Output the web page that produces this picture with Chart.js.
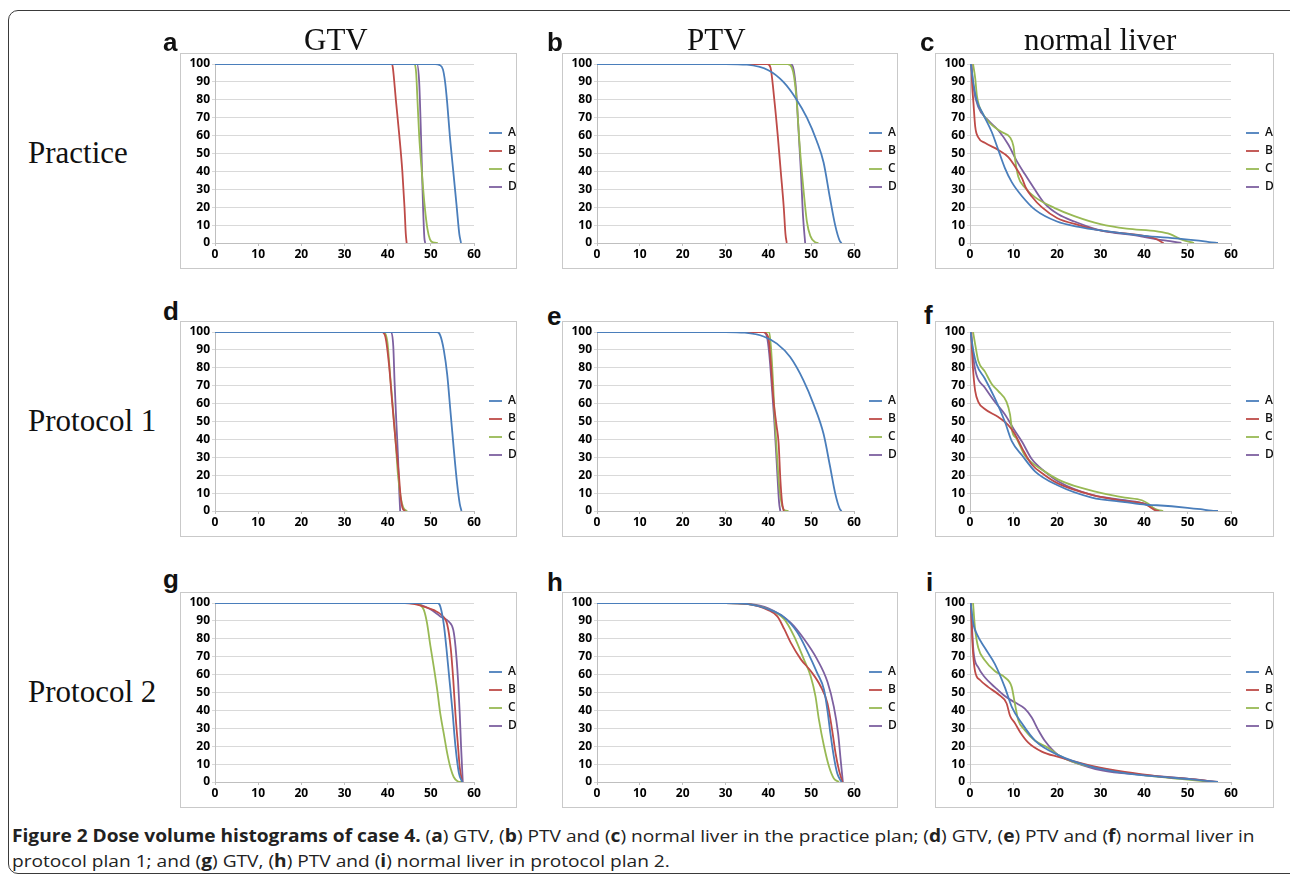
<!DOCTYPE html>
<html lang="en">

<head>
    <meta charset="UTF-8" />
    <title>Figure 2 | Dose volume histograms</title>
    <script src="https://cdn.jsdelivr.net/npm/chart.js"></script>
    <style>
        body { margin: 0; background: #fff; }
        #page { position: relative; width: 1290px; height: 879px; overflow: hidden; background: #fff; }
        .outer { position: absolute; left: 8px; top: 10px; width: 1290px; height: 862px; border: 1.5px solid #3a3a3a; border-radius: 10px; }
        .panel { position: absolute; border: 1px solid #c9c9c9; background: #fff; }
        .panel canvas { display: block; }
        .col1 { left: 180px; width: 335px; }
        .col2 { left: 562px; width: 334px; }
        .col3 { left: 935px; width: 337px; }
        .row1 { top: 53px; height: 214px; }
        .row2 { top: 321px; height: 214px; }
        .row3 { top: 592px; height: 214px; }
        .serif { position: absolute; z-index: 2; font-family: "Liberation Serif", "Times New Roman", serif; font-size: 31px; line-height: 31px; color: #111; white-space: nowrap; }
        .letter { position: absolute; z-index: 2; font-family: "Liberation Sans", Arial, sans-serif; font-weight: bold; font-size: 26px; line-height: 26px; color: #111; }
        .caption { position: absolute; left: 12px; font-family: "Open Sans", sans-serif; font-size: 17px; line-height: 20px; color: #222; white-space: nowrap; transform-origin: left center; }
    </style>
</head>

<body>
    <div id="page">
        <div class="outer"></div>

        <div class="serif" style="left:304px; top:24px;">GTV</div>
        <div class="serif" style="left:687px; top:24px;">PTV</div>
        <div class="serif" style="left:1024px; top:24px;">normal liver</div>

        <div class="serif" style="left:28px; top:137px;">Practice</div>
        <div class="serif" style="left:28px; top:405px;">Protocol 1</div>
        <div class="serif" style="left:28px; top:676px;">Protocol 2</div>

        <div class="letter" style="left:163px; top:29px;">a</div>
        <div class="letter" style="left:547px; top:29px;">b</div>
        <div class="letter" style="left:920px; top:29px;">c</div>
        <div class="letter" style="left:163px; top:298px;">d</div>
        <div class="letter" style="left:547px; top:303px;">e</div>
        <div class="letter" style="left:924px; top:302px;">f</div>
        <div class="letter" style="left:163px; top:566px;">g</div>
        <div class="letter" style="left:547px; top:569px;">h</div>
        <div class="letter" style="left:926px; top:569px;">i</div>

        <div class="panel col1 row1"><canvas id="chartA" width="335" height="214"></canvas></div>
        <div class="panel col2 row1"><canvas id="chartB" width="334" height="214"></canvas></div>
        <div class="panel col3 row1"><canvas id="chartC" width="337" height="214"></canvas></div>
        <div class="panel col1 row2"><canvas id="chartD" width="335" height="214"></canvas></div>
        <div class="panel col2 row2"><canvas id="chartE" width="334" height="214"></canvas></div>
        <div class="panel col3 row2"><canvas id="chartF" width="337" height="214"></canvas></div>
        <div class="panel col1 row3"><canvas id="chartG" width="335" height="214"></canvas></div>
        <div class="panel col2 row3"><canvas id="chartH" width="334" height="214"></canvas></div>
        <div class="panel col3 row3"><canvas id="chartI" width="337" height="214"></canvas></div>

        <div class="caption" id="cap1" style="top:826px;"><b>Figure 2 Dose volume histograms of case 4.</b> (<b>a</b>) GTV, (<b>b</b>) PTV and (<b>c</b>) normal liver in the practice plan; (<b>d</b>) GTV, (<b>e</b>) PTV and (<b>f</b>) normal liver in</div>
        <div class="caption" id="cap2" style="top:851px;">protocol plan 1; and (<b>g</b>) GTV, (<b>h</b>) PTV and (<b>i</b>) normal liver in protocol plan 2.</div>
    </div>

<script>
    // nomes e cores das curvas (planos A-D)
    const seriesNames = ['A', 'B', 'C', 'D'];
    const seriesColors = ['#4a7ebb', '#be4b48', '#98b954', '#7d60a0'];
    const xTicks = [0, 10, 20, 30, 40, 50, 60];
    const yTicks = [0, 10, 20, 30, 40, 50, 60, 70, 80, 90, 100];

    // (a) GTV - practice
    const gtvPracticeA = [[0, 100], [51, 100], [52, 99.5], [52.8, 97], [53.3, 90], [53.8, 78], [54.4, 60], [55.2, 40], [56, 20], [56.6, 5], [57, 0]];
    const gtvPracticeB = [[0, 100], [41, 100], [41.2, 98], [41.9, 80], [42.7, 60], [43.4, 40], [43.9, 20], [44.2, 5], [44.4, 0]];
    const gtvPracticeC = [[0, 100], [46.2, 100], [46.6, 95], [46.9, 80], [47.3, 60], [47.9, 40], [48.6, 20], [49.2, 8], [49.8, 2], [50.5, 0.3], [51.6, 0]];
    const gtvPracticeD = [[0, 100], [46.8, 100], [47.3, 90], [47.6, 70], [47.9, 45], [48.2, 20], [48.5, 3], [48.7, 0]];

    // (b) PTV - practice
    const ptvPracticeA = [[0, 100], [30, 100], [35, 99.6], [40, 96.5], [43.5, 90], [46.5, 80.5], [49, 70], [51.3, 57], [52.9, 45], [54.4, 25], [55.6, 10], [56.7, 1], [57.1, 0]];
    const ptvPracticeB = [[0, 100], [39.8, 100], [40.5, 98], [41.4, 80], [42.2, 60], [42.9, 40], [43.6, 20], [44, 5], [44.3, 0]];
    const ptvPracticeC = [[0, 100], [44.5, 100], [45.5, 98], [46, 93], [46.6, 80], [47.3, 55], [48.2, 30], [49, 12], [49.8, 4], [50.9, 0.5], [51.7, 0]];
    const ptvPracticeD = [[0, 100], [45.2, 100], [45.9, 97], [46.5, 85], [47, 65], [47.6, 40], [48.1, 15], [48.6, 0]];

    // (c) normal liver - practice
    const liverPracticeA = [[0.2, 100], [0.8, 89], [1.5, 80], [3, 72], [5, 62], [6.5, 52], [8, 42], [9.6, 34], [12, 26], [15, 18.5], [20, 12], [25, 9], [30, 7], [40, 4], [48, 2.5], [52, 1.5], [55, 0.5], [57, 0]];
    const liverPracticeB = [[0.3, 100], [0.5, 88], [0.8, 78], [1.2, 65], [1.9, 59], [3.4, 56], [6.5, 52], [8.8, 48], [10.7, 41.5], [12, 36], [12.8, 31], [14.2, 26], [16.5, 20], [20, 14], [25, 10], [30, 7], [35, 5.5], [40, 4], [42.5, 2.5], [44.5, 0]];
    const liverPracticeC = [[0.7, 100], [1.2, 92], [1.6, 82], [3, 72], [5, 66], [7.3, 62], [9.2, 59], [10, 54], [10.4, 46], [11.1, 37], [12.6, 31], [15, 25.5], [19.5, 19.5], [24, 15], [30, 10.5], [36, 8], [43, 6.5], [46, 5], [48.5, 2], [51.5, 0]];
    const liverPracticeD = [[0.3, 100], [0.8, 87], [1.9, 76], [4.2, 68.5], [6.5, 63], [8.8, 55], [10.7, 46], [12.6, 38.5], [14.6, 31], [17.2, 22], [20.3, 16], [24, 12], [30, 7], [38.7, 4], [43, 2], [46, 1], [48.6, 0]];

    // (d) GTV - protocol 1
    const gtvProt1A = [[0, 100], [51.5, 100], [52.2, 98], [53, 90], [53.8, 76], [54.5, 57], [55.3, 35], [56.1, 15], [56.7, 4], [57.1, 0]];
    const gtvProt1B = [[0, 100], [38.7, 100], [39.5, 97], [40.3, 82], [41, 62], [41.8, 40], [42.6, 20], [43, 8], [43.4, 2], [44, 0]];
    const gtvProt1C = [[0, 100], [38.9, 100], [39.9, 95], [40.6, 75], [41.3, 55], [41.8, 40], [42.4, 20], [43, 8], [43.6, 2], [44.5, 0]];
    const gtvProt1D = [[0, 100], [40.8, 100], [41.3, 92], [41.6, 72], [42, 50], [42.4, 30], [42.7, 10], [42.9, 0]];

    // (e) PTV - protocol 1
    const ptvProt1A = [[0, 100], [30, 100], [34.5, 99.6], [38.9, 97.5], [42, 93.5], [45.1, 86], [48.2, 73], [50.5, 60], [52.9, 43], [54.4, 25], [55.6, 10], [56.7, 1], [57.1, 0]];
    const ptvProt1B = [[0, 100], [38.8, 100], [40, 97], [40.6, 82], [41.2, 62], [41.9, 48], [42.4, 38], [42.8, 18], [43.2, 5], [43.6, 0]];
    const ptvProt1C = [[0, 100], [40.2, 100], [40.6, 92], [41.1, 72], [41.5, 52], [42, 32], [42.6, 12], [43.2, 3], [43.7, 0.5], [44.7, 0]];
    const ptvProt1D = [[0, 100], [38.9, 100], [39.7, 97], [40.2, 88], [40.8, 70], [41.4, 50], [42, 25], [42.5, 5], [42.8, 0]];

    // (f) normal liver - protocol 1
    const liverProt1A = [[0.15, 100], [0.8, 89], [1.5, 82], [3.4, 74], [5.7, 63], [8, 50], [9.6, 39], [12, 31], [15, 22], [20, 14.5], [28, 7.5], [35.6, 5], [40.5, 3.5], [43, 3.2], [50, 1.8], [53, 1], [55.5, 0.2], [57, 0]];
    const liverProt1B = [[0.3, 100], [0.5, 87], [0.8, 76], [1.2, 67], [1.9, 61], [3.4, 57], [6.5, 52.5], [8.8, 48], [10.3, 43], [12, 35], [14.2, 26], [17.2, 20], [20.3, 15.3], [28, 9], [35.6, 5.5], [40.2, 4], [41.5, 2], [42.5, 0.5], [43.5, 0]];
    const liverProt1C = [[0.7, 100], [1.2, 93], [1.9, 84], [3.4, 78], [5, 71], [6.5, 67], [8.4, 61], [9.2, 54], [9.7, 44.5], [10.7, 40.5], [12.6, 31], [14.2, 27], [17.2, 22], [20.3, 17.5], [24, 14], [30.3, 10], [35.6, 7.5], [39.5, 6], [41, 4], [42, 2], [43.3, 0.5], [44.4, 0]];
    const liverProt1D = [[0.2, 100], [0.8, 85], [1.5, 76], [3.4, 69], [5.7, 61], [8, 54], [10, 46], [12, 38.5], [14.2, 29], [17.2, 22], [20.3, 16.5], [28, 9], [35.6, 6], [40.2, 4], [41.5, 2.5], [42.5, 1], [43.3, 0]];

    // (g) GTV - protocol 2
    const gtvProt2A = [[0, 100], [51.6, 100], [52.2, 98], [53, 88], [53.6, 75], [54.2, 60], [55, 40], [55.7, 20], [56.5, 5], [57.3, 0]];
    const gtvProt2B = [[0, 100], [44, 100], [46, 99.5], [48.4, 98], [50.7, 96], [52.6, 93], [53.8, 88], [54.6, 75], [55.2, 57], [55.7, 38], [56.3, 20], [56.7, 8], [57.3, 0]];
    const gtvProt2C = [[0, 100], [46.5, 100], [47.5, 99], [48.4, 96], [49.1, 89], [49.9, 76], [50.7, 64], [51.5, 51], [52.2, 38], [53, 27], [53.8, 16], [54.6, 7.5], [55.3, 2.8], [56.3, 0.3], [57.2, 0]];
    const gtvProt2D = [[0, 100], [45, 100], [47.6, 99], [49.9, 96.5], [52.2, 92.5], [54.2, 89.5], [55.2, 85], [55.7, 76], [56.3, 57], [56.7, 38], [57, 20], [57.4, 0]];

    // (h) PTV - protocol 2
    const ptvProt2A = [[0, 100], [30, 100], [35, 99.5], [40, 96.5], [43.7, 92], [46.8, 83.5], [49.1, 73], [51.4, 61], [53, 51.5], [53.8, 40], [54.5, 27], [55.3, 14], [56.1, 4.7], [57.1, 0]];
    const ptvProt2B = [[0, 100], [30, 100], [35, 99.5], [40, 96], [42.1, 92.5], [43.7, 85.5], [45.2, 78], [47.6, 68.5], [49.9, 62], [52.2, 53.5], [53.8, 44], [54.9, 29], [55.7, 16], [56.5, 6.5], [57.3, 0]];
    const ptvProt2C = [[0, 100], [30, 100], [35, 99.5], [40, 96.5], [43.7, 91], [46, 81.5], [48.3, 68.5], [49.9, 59], [51, 48], [51.8, 35], [53, 20], [54.2, 8.4], [55.3, 2], [56.5, 0]];
    const ptvProt2D = [[0, 100], [30, 100], [35, 99.6], [40, 97], [45.2, 89], [48.3, 80], [51.4, 68.5], [53.8, 56], [55.3, 42], [56.3, 27], [56.9, 12], [57.4, 0]];

    // (i) normal liver - protocol 2
    const liverProt2A = [[0.15, 100], [0.8, 88], [1.5, 83], [3.4, 75], [5.7, 66], [8, 53], [9.6, 42], [12, 32.5], [15, 23], [20.3, 15], [28, 8.5], [35.6, 5], [43.3, 3], [51, 1.5], [57, 0]];
    const liverProt2B = [[0.2, 100], [0.6, 76], [1.15, 62], [2.3, 57], [4.2, 53], [6.5, 49], [8.4, 44], [9.2, 37], [10.3, 33], [11.5, 28], [13.4, 22], [16.5, 17], [20.3, 14], [28, 9], [35.6, 5.6], [43.3, 3.2], [51, 1.6], [57, 0]];
    const liverProt2C = [[0.7, 100], [1.15, 86], [1.9, 75], [3.4, 68], [5.7, 62], [8, 58.5], [9.6, 53], [10.3, 44], [11.1, 34.5], [12.6, 29], [15, 23], [18, 19], [20.3, 15], [24, 11], [30.3, 7.5], [39.5, 4], [49.4, 1.5], [55.5, 0]];
    const liverProt2D = [[0.2, 100], [0.8, 73], [1.9, 64], [3.4, 58.5], [5.7, 53], [8, 48], [10.3, 44.5], [12.6, 41], [14.2, 36], [15.7, 29], [17.2, 23], [20.3, 15], [24, 11], [30.3, 6.5], [39.5, 4], [49.4, 2], [57, 0]];

    // legenda à direita com largura fixa (como no Excel)
    const legendBox = {
        id: 'legendBox',
        beforeLayout(chart, args, opts) {
            const lg = chart.legend;
            if (!lg || lg.fitPatched) return;
            const fit = lg.fit;
            lg.fit = function () {
                fit.call(this);
                this.width = opts.width;
            };
            lg.fitPatched = true;
        },
        afterLayout(chart, args, opts) {
            const lg = chart.legend;
            lg.left += opts.dx;
            lg.right += opts.dx;
            lg.top += opts.dy;
            lg.bottom += opts.dy;
        }
    };

    Chart.defaults.font.family = '"Open Sans", Lato, sans-serif';
    Chart.defaults.color = '#000';

    function plotarPainel(idCanvas, curvas, legendWidth) {
        const datasets = curvas.map(function (curva, i) {
            return {
                label: seriesNames[i],
                data: curva.map(function (p) { return { x: p[0], y: p[1] }; }),
                borderColor: seriesColors[i],
                backgroundColor: seriesColors[i],
                borderWidth: 1.8,
                pointRadius: 0,
                cubicInterpolationMode: 'monotone',
                fill: false
            };
        });

        const config = {
            type: 'line',
            data: { datasets: datasets },
            options: {
                responsive: false,
                animation: false,
                devicePixelRatio: 1,
                layout: { padding: { top: 10, right: 0, bottom: 0, left: 0 } },
                scales: {
                    x: {
                        type: 'linear',
                        min: xTicks[0],
                        max: xTicks[xTicks.length - 1],
                        afterBuildTicks: function (scale) {
                            scale.ticks = xTicks.map(function (v) { return { value: v }; });
                        },
                        afterFit: function (scale) {
                            scale.height = 25;
                            scale.paddingLeft = 0;
                            scale.paddingRight = 0;
                        },
                        ticks: { font: { size: 12, weight: 'bold' }, padding: 1, maxRotation: 0 },
                        grid: { drawOnChartArea: false, tickLength: 3, color: '#bfbfbf' },
                        border: { color: '#bfbfbf' }
                    },
                    y: {
                        min: yTicks[0],
                        max: yTicks[yTicks.length - 1],
                        afterBuildTicks: function (scale) {
                            scale.ticks = yTicks.map(function (v) { return { value: v }; });
                        },
                        afterFit: function (scale) {
                            scale.width = 34;
                            scale.paddingTop = 0;
                            scale.paddingBottom = 0;
                        },
                        ticks: { font: { size: 12, weight: 'bold' }, padding: 2 },
                        grid: { color: '#d9d9d9', tickLength: 3 },
                        border: { color: '#bfbfbf' }
                    }
                },
                plugins: {
                    legend: {
                        position: 'right',
                        labels: {
                            usePointStyle: true,
                            pointStyle: 'line',
                            pointStyleWidth: 13,
                            padding: 6,
                            font: { size: 12, weight: 600 },
                            color: '#111'
                        }
                    },
                    legendBox: { width: legendWidth, dx: 9, dy: -6 },
                    tooltip: { enabled: false }
                }
            },
            plugins: [legendBox]
        };

        return new Chart(document.getElementById(idCanvas), config);
    }

    plotarPainel('chartA', [gtvPracticeA, gtvPracticeB, gtvPracticeC, gtvPracticeD], 42);
    plotarPainel('chartB', [ptvPracticeA, ptvPracticeB, ptvPracticeC, ptvPracticeD], 43);
    plotarPainel('chartC', [liverPracticeA, liverPracticeB, liverPracticeC, liverPracticeD], 42);
    plotarPainel('chartD', [gtvProt1A, gtvProt1B, gtvProt1C, gtvProt1D], 42);
    plotarPainel('chartE', [ptvProt1A, ptvProt1B, ptvProt1C, ptvProt1D], 43);
    plotarPainel('chartF', [liverProt1A, liverProt1B, liverProt1C, liverProt1D], 42);
    plotarPainel('chartG', [gtvProt2A, gtvProt2B, gtvProt2C, gtvProt2D], 42);
    plotarPainel('chartH', [ptvProt2A, ptvProt2B, ptvProt2C, ptvProt2D], 43);
    plotarPainel('chartI', [liverProt2A, liverProt2B, liverProt2C, liverProt2D], 42);

    // ajusta a legenda da figura à largura da original
    const cap1 = document.getElementById('cap1');
    const cap2 = document.getElementById('cap2');
    const escala = 1243 / cap1.scrollWidth;
    cap1.style.transform = `scaleX(${escala})`;
    cap2.style.transform = `scaleX(${escala})`;
</script>
</body>

</html>
